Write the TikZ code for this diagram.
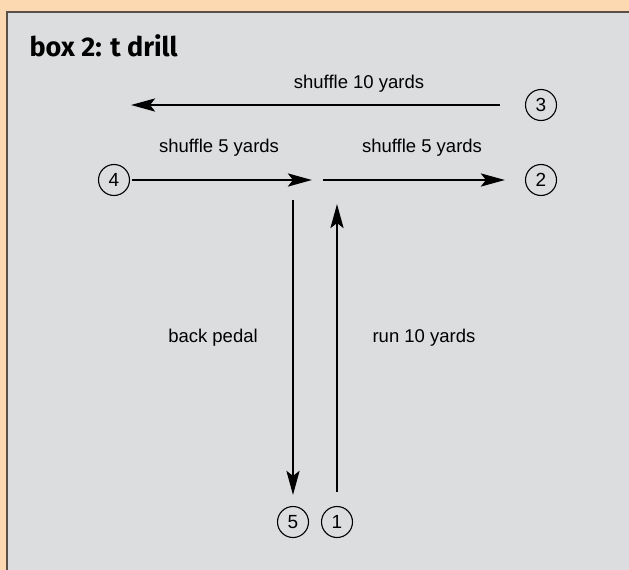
\documentclass[tikz,border=0pt]{standalone}
\usepackage{fontspec}
\setmainfont{Liberation Sans}
\newfontfamily\titlefont{Fira Sans}
\usetikzlibrary{arrows.meta}
\definecolor{peach}{HTML}{FDD9B1}
\definecolor{panel}{HTML}{DCDDDF}
\definecolor{rim}{HTML}{5A5048}
\tikzset{
  spot/.style = {circle, draw, line width=1.1pt, minimum size=31pt, inner sep=0pt, font=\fontsize{19}{19}\selectfont},
  lbl/.style = {font=\fontsize{18.5}{18.5}\selectfont},
  run/.style = {line width=2.8pt, -{Stealth[length=24pt, width=13pt, inset=5pt]}},
}

\begin{document}
\begin{tikzpicture}[x=1pt, y=-1pt]
%background
\useasboundingbox (0,0) rectangle (629,570);
\fill[peach] (-5,-5) rectangle (640,580);
\fill[panel] (7,12) rectangle (640,580);
\draw[rim, line width=2.5pt] (7,580) -- (7,12) -- (640,12);
\node[anchor=west, font=\titlefont\bfseries\fontsize{27}{27}\selectfont] (title) at (26,46) {box 2: t drill};

%players
\node[spot] (p1) at (337,522) {1};
\node[spot] (p2) at (541,180) {2};
\node[spot] (p3) at (541,105) {3};
\node[spot] (p4) at (114,180) {4};
\node[spot] (p5) at (293,522) {5};

%ends of the runs
\coordinate (a) at (131,105);
\coordinate (b) at (312,180);
\coordinate (c) at (323,180);
\coordinate (d) at (293,200);
\coordinate (e) at (337,204);
\draw[run] ([xshift=-25pt]p3.west) -- (a);
\draw[run] ([xshift=2pt]p4.east) -- (b);
\draw[run] (c) -- ([xshift=-20pt]p2.west);
\draw[run] (d) -- ([yshift=11pt]p5.north);
\draw[run] ([yshift=14pt]p1.north) -- (e);

%labels
\path (359,84) node[lbl] (l3) {shuffle 10 yards};
\path (219,148) node[lbl] (l4) {shuffle 5 yards};
\path (422,148) node[lbl] (l2) {shuffle 5 yards};
\path (213,338) node[lbl] (l5) {back pedal};
\path (424,338) node[lbl] (l1) {run 10 yards};
\end{tikzpicture}
\end{document}
